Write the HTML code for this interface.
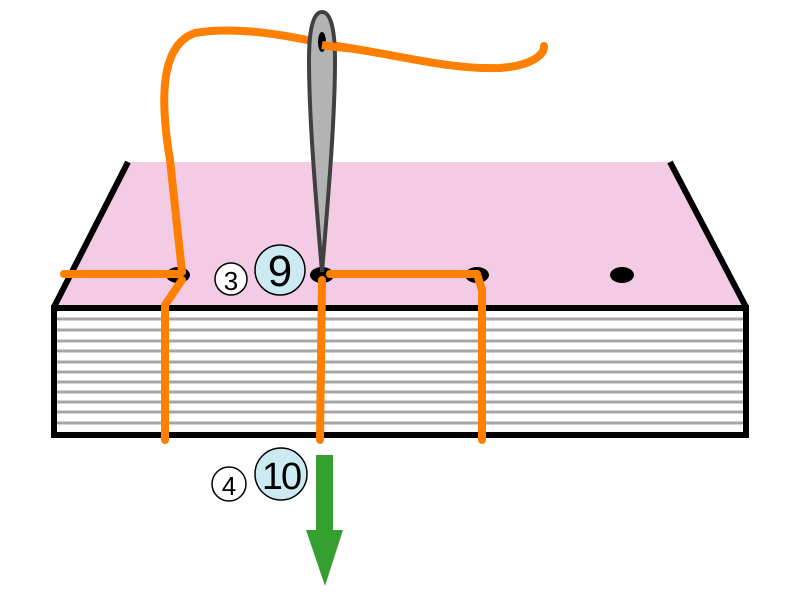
<!DOCTYPE html>
<html><head><style>body{margin:0;background:#fff}svg{display:block}</style></head><body>
<svg width="800" height="600" viewBox="0 0 800 600" xmlns="http://www.w3.org/2000/svg">
<polygon points="128,162 670,162 746,305 54,305" fill="#f4cbe4"/>
<line x1="128" y1="162" x2="54" y2="307" stroke="#000" stroke-width="6"/>
<line x1="670" y1="162" x2="746" y2="307" stroke="#000" stroke-width="6"/>
<rect x="54" y="308" width="692" height="127" fill="#fff" stroke="#000" stroke-width="6"/>
<g stroke="#a6a6a6" stroke-width="3">
<line x1="57" y1="319" x2="743" y2="319"/><line x1="57" y1="330" x2="743" y2="330"/>
<line x1="57" y1="341" x2="743" y2="341"/><line x1="57" y1="351" x2="743" y2="351"/>
<line x1="57" y1="362" x2="743" y2="362"/><line x1="57" y1="372" x2="743" y2="372"/>
<line x1="57" y1="382" x2="743" y2="382"/><line x1="57" y1="392" x2="743" y2="392"/>
<line x1="57" y1="402" x2="743" y2="402"/><line x1="57" y1="412" x2="743" y2="412"/>
<line x1="57" y1="423" x2="743" y2="423"/>
</g>
<ellipse cx="178" cy="275" rx="12" ry="8" fill="#000"/>
<ellipse cx="322" cy="275" rx="12" ry="8" fill="#000"/>
<ellipse cx="477" cy="275" rx="12" ry="8" fill="#000"/>
<ellipse cx="622" cy="275" rx="12" ry="8" fill="#000"/>
<g fill="none" stroke="#ff7f00" stroke-width="8" stroke-linecap="round">
<path d="M64,274 L178,274"/>
<path d="M330,274 L477,274"/>
<path d="M182,272 L170,160 C160,100 160,45 195,33 C240,25 300,38 330,45 C400,55 450,70 500,68 C530,66 545,55 544,46"/>
<path d="M182,280 L165,305 L165,440"/>
<path d="M322,280 L320,440"/>
<path d="M477,274 L482,290 L482,440"/>
</g>
<path d="M322,12 C313,12 309,30 309,60 C309,120 316,200 322,272 C328,200 335,120 335,60 C335,30 331,12 322,12 Z" fill="#b3b3b3" stroke="#404040" stroke-width="4"/>
<ellipse cx="322" cy="42" rx="4" ry="10" fill="#000"/>
<path d="M322,45 C340,48 350,48 360,50" fill="none" stroke="#ff7f00" stroke-width="8"/>
<g font-family="Liberation Sans, sans-serif" text-anchor="middle" fill="#000">
<circle cx="231" cy="279" r="16" fill="#fff" stroke="#000" stroke-width="1.5"/>
<text x="231" y="290" font-size="26">3</text>
<circle cx="280" cy="270" r="25" fill="#cbeaf1" stroke="#000" stroke-width="1.5"/>
<text x="280" y="286" font-size="44">9</text>
<circle cx="229" cy="484" r="17" fill="#fff" stroke="#000" stroke-width="1.5"/>
<text x="229" y="495" font-size="26">4</text>
<circle cx="281" cy="474" r="26" fill="#cbeaf1" stroke="#000" stroke-width="1.5"/>
<text x="281" y="489" font-size="38" letter-spacing="-2">10</text>
</g>
<rect x="316" y="455" width="17" height="77" fill="#35a02f"/>
<polygon points="306,530 343,530 325,586" fill="#35a02f"/>
</svg>
</body></html>
